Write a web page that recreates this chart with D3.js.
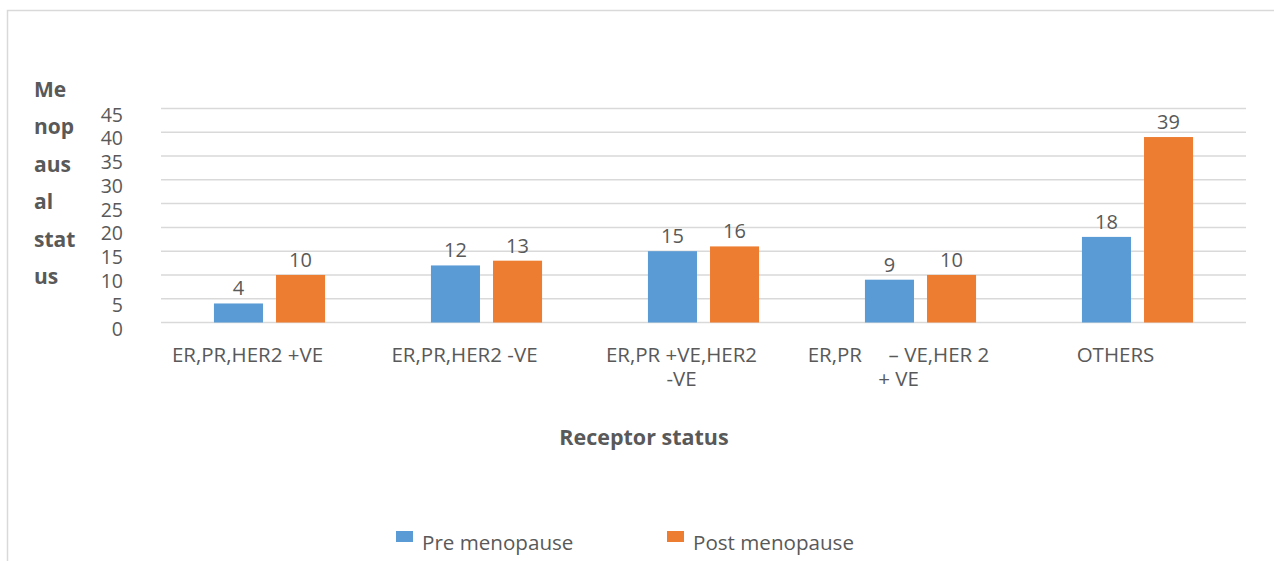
<!DOCTYPE html>
<html>
<head>
<meta charset="utf-8">
<script src="https://cdn.jsdelivr.net/npm/d3@7"></script>
<style>
  body { margin: 0; background: #fff; }
  text { font-family: "Open Sans", sans-serif; fill: #595959; }
</style>
</head>
<body>
<svg id="chart"></svg>
<script>
const width = 1274,
    height = 561;

const categories = [
    ["ER,PR,HER2 +VE"],
    ["ER,PR,HER2 -VE"],
    ["ER,PR +VE,HER2", "-VE"],
    ["ER,PR     \u2013 VE,HER 2", "+ VE"],
    ["OTHERS"]
];
const seriesNames = ["Pre menopause", "Post menopause"];
const preValues = [4, 12, 15, 9, 18];
const postValues = [10, 13, 16, 10, 39];
const yTicks = [0, 5, 10, 15, 20, 25, 30, 35, 40, 45];
const yTitle = ["Me", "nop", "aus", "al", "stat", "us"];
const xTitle = "Receptor status";
const colors = ["#5b9bd5", "#ed7d31"];

const svg = d3.select("svg#chart")
    .attr("width", width)
    .attr("height", height);

// chart frame
svg.append("rect")
    .attr("x", 7.5)
    .attr("y", 10.5)
    .attr("width", 1300)
    .attr("height", 600)
    .attr("fill", "none")
    .attr("stroke", "#d9d9d9")
    .attr("stroke-width", 1.5);

const keys = categories.map((d, i) => i);
const x = d3.scaleBand()
    .domain(keys)
    .range([161, 1246])
    .paddingInner(0.488)
    .paddingOuter(0.244);
const x1 = d3.scaleBand()
    .domain([0, 1])
    .range([0, x.bandwidth()])
    .paddingInner(0.21);
const y = d3.scaleLinear()
    .domain([0, 45])
    .range([322.5, 108.5]);

// gridlines
svg.append("g")
    .selectAll("line")
    .data(yTicks)
    .enter()
    .append("line")
    .attr("x1", 161)
    .attr("x2", 1246)
    .attr("y1", d => y(d))
    .attr("y2", d => y(d))
    .attr("stroke", "#d9d9d9")
    .attr("stroke-width", 1.5);

// y tick labels
svg.append("g")
    .selectAll("text")
    .data(yTicks)
    .enter()
    .append("text")
    .attr("x", 123)
    .attr("y", d => y(d) + 13)
    .attr("text-anchor", "end")
    .style("font-size", "19.5px")
    .text(d => d);

// bars
const rows = keys.map(i => [preValues[i], postValues[i]]);
const group = svg.append("g")
    .selectAll("g")
    .data(rows)
    .enter()
    .append("g")
    .attr("transform", (d, i) => `translate(${x(i)},0)`);
group.selectAll("rect")
    .data(d => d)
    .enter()
    .append("rect")
    .attr("x", (d, j) => x1(j))
    .attr("width", x1.bandwidth())
    .attr("y", d => y(d))
    .attr("height", d => y(0) - y(d))
    .attr("fill", (d, j) => colors[j]);
group.selectAll("text")
    .data(d => d)
    .enter()
    .append("text")
    .attr("x", (d, j) => x1(j) + x1.bandwidth() / 2)
    .attr("y", d => y(d) - 8)
    .attr("text-anchor", "middle")
    .style("font-size", "20px")
    .text(d => d);

// category labels
const xLabels = svg.append("g")
    .selectAll("text")
    .data(categories)
    .enter()
    .append("text")
    .attr("text-anchor", "middle")
    .style("font-size", "20.5px")
    .style("white-space", "pre");
xLabels.each(function (lines, i) {
    lines.forEach((line, k) => {
        d3.select(this).append("tspan")
            .attr("x", x(i) + x.bandwidth() / 2 - 22)
            .attr("y", 362 + k * 24)
            .text(line);
    });
});

// axis titles
svg.append("text")
    .attr("x", 644)
    .attr("y", 445)
    .attr("text-anchor", "middle")
    .style("font-size", "21.5px")
    .style("font-weight", "bold")
    .text(xTitle);
svg.append("g")
    .selectAll("text")
    .data(yTitle)
    .enter()
    .append("text")
    .attr("x", 34)
    .attr("y", (d, i) => 97 + i * 37.4)
    .style("font-size", "21px")
    .style("font-weight", "bold")
    .text(d => d);

// legend
const legend = svg.append("g")
    .selectAll("g")
    .data(seriesNames)
    .enter()
    .append("g")
    .attr("transform", (d, i) => `translate(${396 + i * 271},0)`);
legend.append("rect")
    .attr("y", 531)
    .attr("width", 17)
    .attr("height", 11)
    .attr("fill", (d, i) => colors[i]);
legend.append("text")
    .attr("x", 26)
    .attr("y", 550)
    .style("font-size", "20.6px")
    .text(d => d);
</script>
</body>
</html>
